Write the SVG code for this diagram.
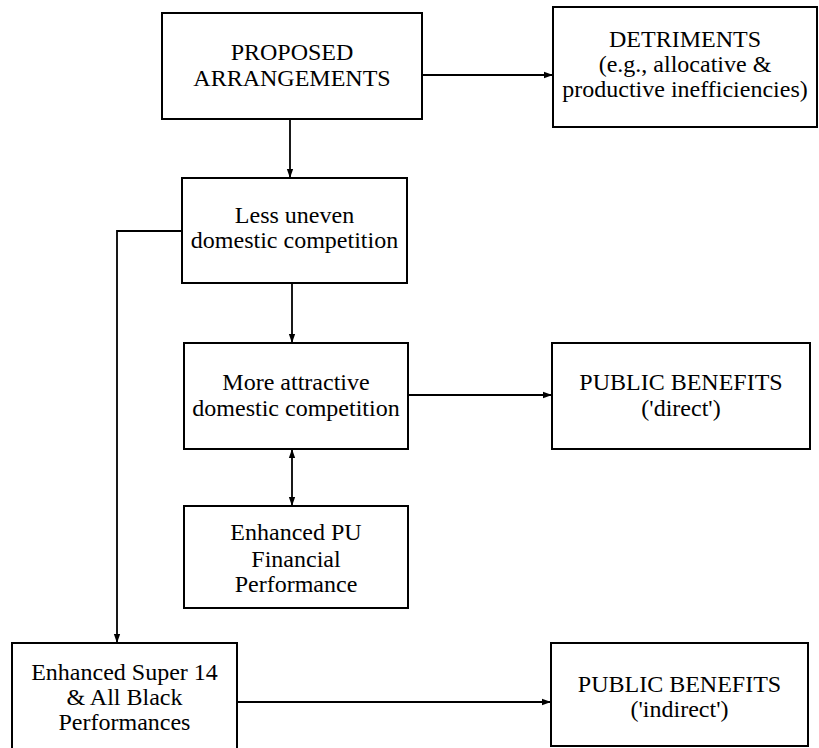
<svg xmlns="http://www.w3.org/2000/svg" width="819" height="748" viewBox="0 0 819 748">
<style>
.box{fill:#fff;stroke:#000;stroke-width:2}
.t{font-family:"Liberation Serif","Times New Roman",serif;font-size:24px;fill:#000;text-anchor:middle}
.c{fill:none;stroke:#000;stroke-width:1.8}
</style>
<defs>
<marker id="ah" viewBox="0 0 10 10" refX="10" refY="5" markerWidth="9" markerHeight="9" markerUnits="userSpaceOnUse" orient="auto-start-reverse">
<path d="M0,1.5 L10,5 L0,8.5 z" fill="#000"/>
</marker>
</defs>
<rect width="819" height="748" fill="#fff"/>
<g id="connectors">
<line class="c" x1="422" y1="75" x2="553" y2="75" marker-end="url(#ah)"/>
<line class="c" x1="290" y1="119" x2="290" y2="178" marker-end="url(#ah)"/>
<line class="c" x1="292" y1="283" x2="292" y2="343" marker-end="url(#ah)"/>
<line class="c" x1="408" y1="395" x2="552" y2="395" marker-end="url(#ah)"/>
<line class="c" x1="292" y1="449" x2="292" y2="506" marker-start="url(#ah)" marker-end="url(#ah)"/>
<polyline class="c" points="182,231 117,231 117,643" marker-end="url(#ah)"/>
<line class="c" x1="237" y1="702" x2="551" y2="702" marker-end="url(#ah)"/>
</g>
<g id="proposed">
<rect class="box" x="162" y="13" width="260" height="106"/>
<text class="t" x="292" y="60">PROPOSED</text>
<text class="t" x="292" y="86">ARRANGEMENTS</text>
</g>
<g id="detriments">
<rect class="box" x="553" y="7" width="264" height="120"/>
<text class="t" x="685" y="47">DETRIMENTS</text>
<text class="t" x="685" y="72">(e.g., allocative &amp;</text>
<text class="t" x="685" y="97">productive inefficiencies)</text>
</g>
<g id="less-uneven">
<rect class="box" x="182" y="178" width="225" height="105"/>
<text class="t" x="294.5" y="223">Less uneven</text>
<text class="t" x="294.5" y="248">domestic competition</text>
</g>
<g id="more-attractive">
<rect class="box" x="184" y="343" width="224" height="106"/>
<text class="t" x="296" y="390">More attractive</text>
<text class="t" x="296" y="416">domestic competition</text>
</g>
<g id="public-direct">
<rect class="box" x="552" y="343" width="258" height="106"/>
<text class="t" x="681" y="390">PUBLIC BENEFITS</text>
<text class="t" x="681" y="416">('direct')</text>
</g>
<g id="enhanced-pu">
<rect class="box" x="184" y="506" width="224" height="102"/>
<text class="t" x="296" y="540">Enhanced PU</text>
<text class="t" x="296" y="567">Financial</text>
<text class="t" x="296" y="592">Performance</text>
</g>
<g id="super14">
<rect class="box" x="12" y="643" width="225" height="110"/>
<text class="t" x="124.5" y="680">Enhanced Super 14</text>
<text class="t" x="124.5" y="705">&amp; All Black</text>
<text class="t" x="124.5" y="730">Performances</text>
</g>
<g id="public-indirect">
<rect class="box" x="551" y="643" width="257" height="103"/>
<text class="t" x="679.5" y="692">PUBLIC BENEFITS</text>
<text class="t" x="679.5" y="717">('indirect')</text>
</g>
</svg>
